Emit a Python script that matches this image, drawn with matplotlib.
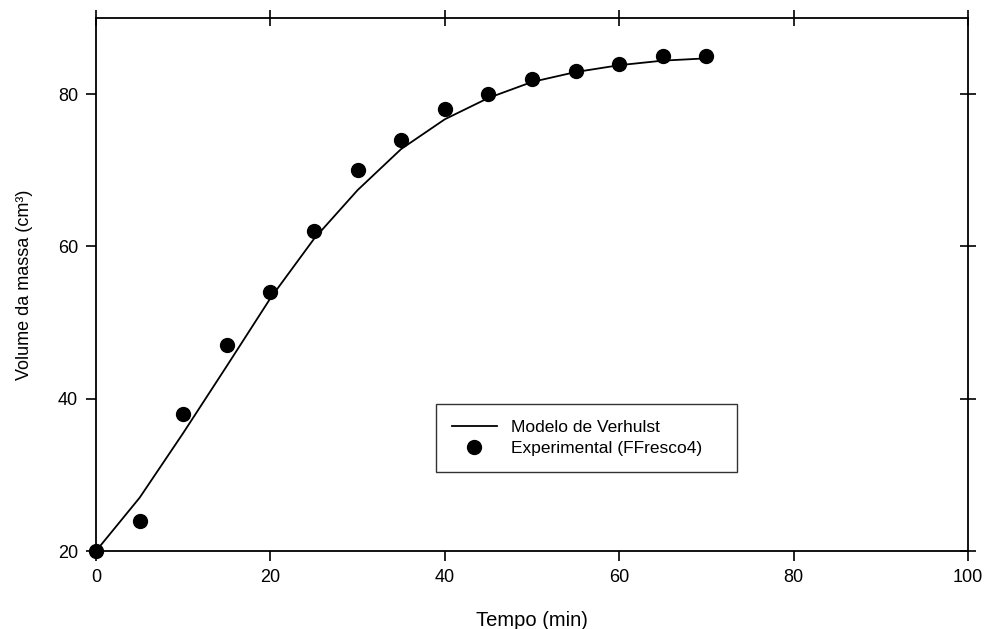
import matplotlib
matplotlib.use('Agg')
import matplotlib.pyplot as plt

plt.rcParams['font.family'] = ['Liberation Sans', 'DejaVu Sans']

# Experimental data (FFresco4)
tempo = [0, 5, 10, 15, 20, 25, 30, 35, 40, 45, 50, 55, 60, 65, 70]
volume_exp = [20, 24, 38, 47, 54, 62, 70, 74, 78, 80, 82, 83, 84, 85, 85]

# Verhulst model curve
volume_modelo = [20, 27, 35.5, 44.3, 53.2, 61, 67.4, 72.8, 76.7, 79.5, 81.6, 82.9, 83.8, 84.4, 84.7]

fig = plt.figure(figsize=(9.88, 6.29), dpi=100)
ax = fig.add_axes([0.0972, 0.124, 0.8826, 0.8474])

ax.plot(tempo, volume_modelo, color='black', linewidth=1.3, label='Modelo de Verhulst')
ax.plot(tempo, volume_exp, 'o', color='black', markersize=10,
        label='Experimental (FFresco4)', clip_on=False, zorder=3)

ax.set_xlim(0, 100)
ax.set_ylim(20, 90)
ax.set_xticks([0, 20, 40, 60, 80, 100])
ax.set_yticks([20, 40, 60, 80])

ax.tick_params(axis='both', which='both', direction='out', length=7, width=1.2,
               labelsize=13, pad=6)
ax.tick_params(top=True, right=True)
# top/right ticks cross the spine
for t in ax.xaxis.get_major_ticks():
    t.tick2line.set_marker('|')
    t.tick2line.set_markersize(12)
for t in ax.yaxis.get_major_ticks():
    t.tick2line.set_marker('_')
    t.tick2line.set_markersize(12)

for s in ax.spines.values():
    s.set_linewidth(1.3)

ax.set_xlabel('Tempo (min)', fontsize=14.5, labelpad=18)
ax.set_ylabel('Volume da massa (cm³)', fontsize=13, labelpad=18)

leg = ax.legend(loc='lower left', bbox_to_anchor=(0.39, 0.148, 0.345, 0.135),
                mode='expand', fancybox=False, frameon=True, fontsize=12.5,
                handlelength=2.6, borderpad=0.9, labelspacing=0.35,
                borderaxespad=0, handletextpad=0.8)
leg.get_frame().set_edgecolor('black')
leg.get_frame().set_linewidth(1.0)

fig.savefig('out.png', dpi=100)
